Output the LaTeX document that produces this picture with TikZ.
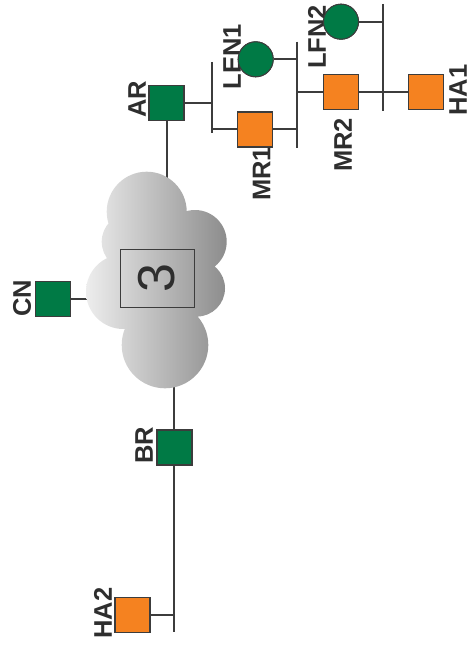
\documentclass[tikz,border=0pt]{standalone}
\usepackage{fontspec}
\setmainfont{Liberation Sans}
\definecolor{cgreen}{HTML}{007A45}
\definecolor{corange}{HTML}{F58220}
\definecolor{cline}{HTML}{3C3C3C}
\definecolor{ctext}{HTML}{2E2E2E}
\begin{document}
\begin{tikzpicture}[x=1pt,y=-1pt,
  sq/.style={draw=cline,line width=1.6pt,minimum size=35pt,inner sep=0pt},
  gsq/.style={sq,fill=cgreen},
  osq/.style={sq,fill=corange},
  gcirc/.style={circle,draw=cline,line width=1pt,fill=cgreen,minimum size=35pt,inner sep=0pt},
  lab/.style={rotate=90,inner sep=0pt,text=ctext,font=\bfseries\fontsize{25.5}{30}\selectfont},
  conn/.style={draw=cline,line width=2pt}]
\useasboundingbox (0,0) rectangle (473,650);
% nodes
\node[gsq] (AR) at (166.5,103) {};
\node[osq] (MR1) at (255,129.5) {};
\node[osq] (MR2) at (341,92) {};
\node[osq] (HA1) at (426,92) {};
\node[gsq] (CN) at (53,299) {};
\node[gsq] (BR) at (174.3,447.7) {};
\node[osq] (HA2) at (132.5,615) {};
\node[gcirc] (LFN1) at (255.7,59.3) {};
\node[gcirc] (LFN2) at (341,21.7) {};
% bars
\coordinate (b1t) at (211.7,62);  \coordinate (b1b) at (211.7,133);
\coordinate (b2t) at (296.7,41.7); \coordinate (b2b) at (296.7,148.3);
\coordinate (b3t) at (383.3,4);   \coordinate (b3b) at (383.3,111);
\coordinate (cloudtop) at (166.5,200);
\coordinate (cloudleft) at (100,299);
\coordinate (cloudbot) at (174.3,370);
\coordinate (bend) at (174.3,631.7);
\draw[conn] (b1t) -- (b1b);
\draw[conn] (b2t) -- (b2b);
\draw[conn] (b3t) -- (b3b);
\draw[conn] (AR.east) -- (AR.east -| b1t);
\draw[conn] (MR1.west) -- (MR1.west -| b1t);
\draw[conn] (MR1.east) -- (MR1.east -| b2t);
\draw[conn] (LFN1.east) -- (LFN1.east -| b2t);
\draw[conn] (MR2.west) -- (MR2.west -| b2t);
\draw[conn] (MR2.east) -- (MR2.east -| b3t);
\draw[conn] (LFN2.east) -- (LFN2.east -| b3t);
\draw[conn] (HA1.west) -- (HA1.west -| b3t);
\draw[conn] (AR.south) -- (cloudtop);
\draw[conn] (CN.east) -- (cloudleft);
\draw[conn] (cloudbot) -- (BR.north);
\draw[conn] (BR.south) -- (bend);
\draw[conn] (HA2.east) -- (HA2.east -| bend);
% cloud
\shade[left color=black!7,right color=black!45]
  (146.7,211.7) circle (40)
  (195,241.7) circle (31.7)
  (196.7,288.3) circle (28.3)
  (165,345) circle (43.3)
  (123.3,291.7) circle (37.3)
  (160,281.7) circle (50)
  (130,241.7) circle (28.3);
\node[draw=cline,line width=1pt,minimum width=74pt,minimum height=58pt,inner sep=0pt] (box) at (157,278) {};
\node[rotate=90,inner sep=0pt,text=ctext,font=\fontsize{52}{60}\selectfont] (three) at (box.center) {3};
% labels
\node[lab] (ARl) at (137,99) {AR};
\node[lab] (MR1l) at (261.5,174) {MR1};
\node[lab] (LEN1l) at (232,56.5) {LEN1};
\node[lab] (MR2l) at (343,145) {MR2};
\node[lab] (LFN2l) at (317,37) {LFN2};
\node[lab] (HA1l) at (458,90) {HA1};
\node[lab] (CNl) at (22,298) {CN};
\node[lab] (BRl) at (144,445) {BR};
\node[lab] (HA2l) at (103,613) {HA2};
\node[gcirc] at (LFN1) {};
\node[gcirc] at (LFN2) {};
\end{tikzpicture}
\end{document}
